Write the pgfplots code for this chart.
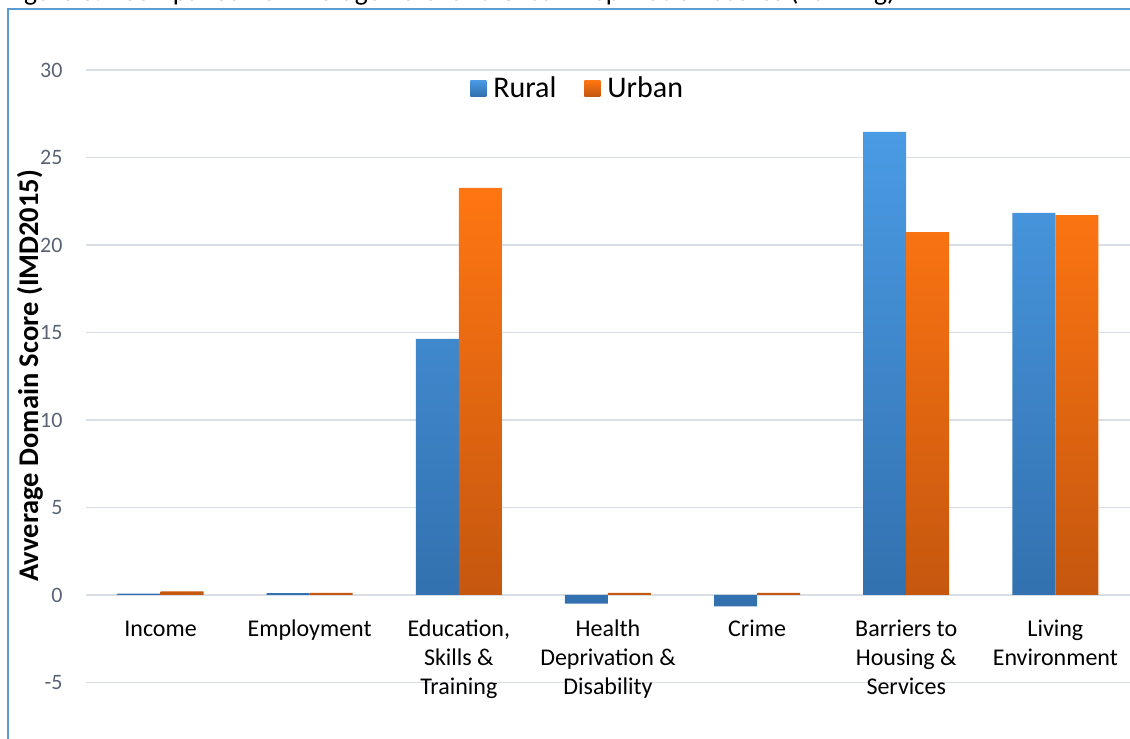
\documentclass[border=0pt]{standalone}
\usepackage{pgfplots}
\pgfplotsset{compat=1.18}
\usepackage{fontspec}
\setmainfont{Carlito}
\definecolor{gridc}{RGB}{217,221,228}
\definecolor{tickc}{RGB}{89,99,115}
\definecolor{ruralT}{RGB}{74,155,228}
\definecolor{ruralB}{RGB}{50,112,174}
\definecolor{urbanT}{RGB}{255,118,18}
\definecolor{urbanB}{RGB}{197,87,15}
\definecolor{framec}{RGB}{91,155,213}
\begin{document}
\begin{tikzpicture}
\useasboundingbox (-86bp,0) rectangle (1044bp,739bp);
\node[anchor=base west, font=\fontsize{27.5bp}{30bp}\selectfont, inner sep=0pt] at (-81bp,738bp) {Figure 3.9 Comparison of Average Rural and Urban Deprivation Scores (Ranking)};
\draw[framec, line width=1.5bp] (-78bp,0) -- (-78bp,730bp) -- (1050bp,730bp);
\begin{axis}[
  at={(0,0)}, anchor=south west,
  scale only axis, width=1044bp, height=669bp,
  xmin=-0.5, xmax=6.5, ymin=-8.23, ymax=30,
  axis x line=middle, axis y line=left,
  x axis line style={draw=gridc, line width=1.2bp, -},
  y axis line style={draw=none},
  hide obscured y ticks=false,
  major tick length=0pt,
  ytick={-5,0,...,30},
  ymajorgrids, grid style={gridc, line width=1.2bp},
  xtick={0,...,6},
  xticklabels={{\vphantom{l}Income}, Employment, {Education,\\Skills \&\\Training}, {Health\\Deprivation \&\\Disability}, {\vphantom{l}Crime}, {Barriers to\\Housing \&\\Services}, {Living\\Environment}},
  xticklabel style={align=center, font=\fontsize{24bp}{29bp}\selectfont, anchor=north, yshift=-21bp},
  yticklabel style={font=\fontsize{22bp}{26bp}\selectfont, color=tickc, anchor=east, xshift=-20bp},
  /pgf/number format/assume math mode=true,
  ylabel={\textbf{Avverage Domain Score (IMD2015)}},
  ylabel style={at={(axis description cs:-0.0536,0.543)}, anchor=center, font=\fontsize{28.5bp}{30bp}\selectfont},
  ybar=0pt, bar width=43bp,
  legend style={at={(axis description cs:0.471,0.973)}, anchor=center, draw=none, fill=none, legend columns=2, font=\fontsize{30bp}{32bp}\selectfont, /tikz/every even column/.append style={column sep=26bp}},
  legend image code/.code={\path[#1] (0bp,-8bp) rectangle (16bp,8bp);},
]
\addplot[draw=none, top color=ruralT, bottom color=ruralB] coordinates {(0,0.08) (1,0.1) (2,14.63) (3,-0.5) (4,-0.65) (5,26.46) (6,21.83)};
\addplot[draw=none, top color=urbanT, bottom color=urbanB] coordinates {(0,0.2) (1,0.12) (2,23.26) (3,0.12) (4,0.12) (5,20.74) (6,21.71)};
\legend{\hspace{5bp}Rural, \hspace{5bp}Urban}
\end{axis}
\end{tikzpicture}
\end{document}
